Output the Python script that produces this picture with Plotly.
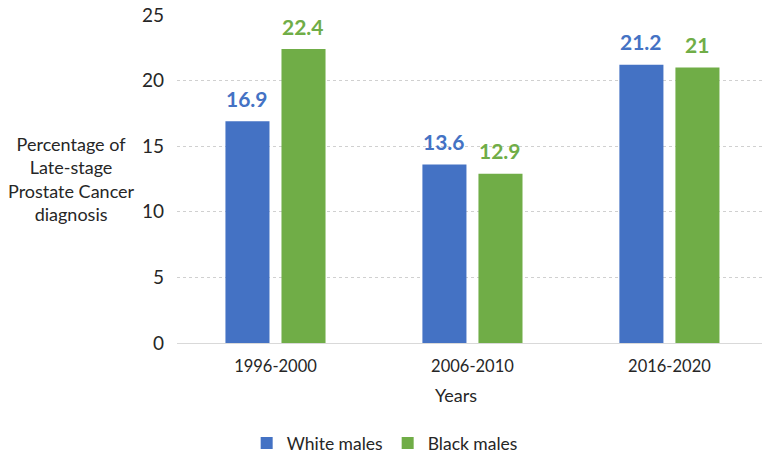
import plotly.graph_objects as go

categories = ["1996-2000", "2006-2010", "2016-2020"]
white_males = [16.9, 13.6, 21.2]
black_males = [22.4, 12.9, 21.0]
value_labels_white = ["16.9", "13.6", "21.2"]
value_labels_black = ["22.4", "12.9", "21"]
y_ticks = [0, 5, 10, 15, 20, 25]

BLUE = "#4472C4"
GREEN = "#70AD47"
FONT = "Lato"
TXT = "#262626"

fig = go.Figure()
fig.add_trace(go.Bar(x=categories, y=white_males, name="White males",
                     marker=dict(color=BLUE, line=dict(width=0))))
fig.add_trace(go.Bar(x=categories, y=black_males, name="Black males",
                     marker=dict(color=GREEN, line=dict(width=0))))

annotations = []
for cat, v, t in zip(categories, white_males, value_labels_white):
    annotations.append(dict(x=cat, y=v, text=f"<b>{t}</b>", showarrow=False,
                            xshift=-28, yshift=23, yanchor="middle",
                            font=dict(family=FONT, size=21, color=BLUE)))
for cat, v, t in zip(categories, black_males, value_labels_black):
    annotations.append(dict(x=cat, y=v, text=f"<b>{t}</b>", showarrow=False,
                            xshift=28, yshift=23, yanchor="middle",
                            font=dict(family=FONT, size=21, color=GREEN)))

annotations.append(dict(xref="paper", yref="paper", x=-0.1795, y=0.5,
                        text="Percentage of<br>Late-stage<br>Prostate Cancer<br>diagnosis",
                        showarrow=False, xanchor="center", yanchor="middle", align="center",
                        font=dict(family=FONT, size=18, color=TXT)))
annotations.append(dict(xref="paper", yref="paper", x=0.477, y=-0.158,
                        text="Years", showarrow=False, xanchor="center", yanchor="middle",
                        font=dict(family=FONT, size=18, color=TXT)))

fig.update_layout(
    width=762, height=454,
    margin=dict(l=177, r=0, t=15, b=111, autoexpand=False),
    paper_bgcolor="white", plot_bgcolor="white",
    barmode="group", bargap=0.431, bargroupgap=0.214,
    font=dict(family=FONT, size=16, color=TXT),
    showlegend=True,
    legend=dict(orientation="h", x=0.355, xanchor="center",
                yref="container", y=0.024, yanchor="middle",
                font=dict(family=FONT, size=17.5, color=TXT), itemwidth=30,
                traceorder="normal"),
    annotations=annotations,
)
fig.update_xaxes(range=[-0.5, 2.47], showline=True, linecolor="#D9D9D9", linewidth=1,
                 showgrid=False, ticks="", tickfont=dict(family=FONT, size=16.5, color=TXT),
                 ticklabelstandoff=8)
fig.update_yaxes(range=[0, 25], tickvals=y_ticks, showgrid=True, gridcolor="#D0D0D0",
                 griddash="dot", gridwidth=1, zeroline=False, showline=False, ticks="",
                 tickfont=dict(family=FONT, size=19, color=TXT), ticklabelstandoff=12)

fig.write_html("out.html")
